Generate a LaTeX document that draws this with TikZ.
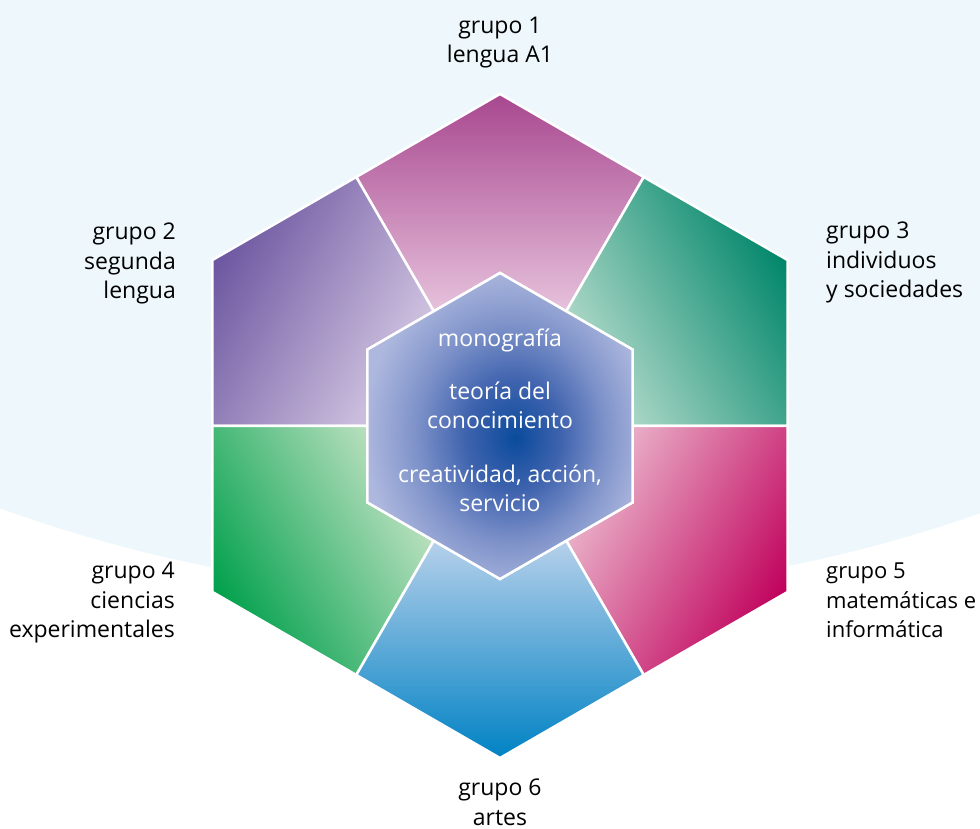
\documentclass[tikz,border=0pt]{standalone}
\usepackage{fontspec}
\setmainfont{Open Sans}
\usepackage{xcolor}
\usepackage{tikz}

\definecolor{bgblue}{HTML}{EEF7FC}
\definecolor{g1dark}{HTML}{A8478F}
\definecolor{g1pale}{HTML}{E6C2DC}
\definecolor{g2dark}{HTML}{6C56A0}
\definecolor{g2pale}{HTML}{D6CAE4}
\definecolor{g3dark}{HTML}{00866A}
\definecolor{g3pale}{HTML}{B6DCCC}
\definecolor{g4dark}{HTML}{00A04C}
\definecolor{g4pale}{HTML}{C6E4C6}
\definecolor{g5dark}{HTML}{C0005C}
\definecolor{g5pale}{HTML}{ECBACE}
\definecolor{g6dark}{HTML}{0082C4}
\definecolor{g6pale}{HTML}{B6D0EA}
\definecolor{coreblue}{HTML}{0A4B9C}
\definecolor{coremid}{HTML}{3F63AE}
\definecolor{corelight}{HTML}{7F93CA}
\definecolor{corepale}{HTML}{AEB8DE}

\pgfdeclareradialshading{core}{\pgfpoint{3bp}{-2bp}}{%
  color(0bp)=(coreblue); color(9bp)=(coremid); color(18bp)=(corelight);
  color(27bp)=(corepale); color(50bp)=(corepale)}

\begin{document}
\begin{tikzpicture}[x=1pt, y=1pt,
    segment/.style={draw=white, line width=2.5pt, line join=miter},
    grouptext/.style={font=\fontsize{23}{29.5}\selectfont, inner sep=0pt, anchor=base},
    coretext/.style={grouptext, text=white, align=center}]
  \def\lo{332}
  \def\lm{287.5}
  \def\li{153}
  \def\lim{132.5}
  \useasboundingbox (-500,-403) rectangle (480,426);
  \begin{scope}
    \clip (-500,-403) rectangle (480,426);
    \fill[bgblue] (-3,1293) circle (1462);
  \end{scope}
  \foreach \a/\dark/\pale/\ang in {90/g1dark/g1pale/0, 150/g2dark/g2pale/60,
      30/g3dark/g3pale/-60, 210/g4dark/g4pale/120,
      330/g5dark/g5pale/-120, 270/g6dark/g6pale/180}
  {
    \shade[segment, top color=\dark, bottom color=\pale, shading angle=\ang]
      (\a:\lo) -- (\a+30:\lm) -- (\a+30:\lim) -- (\a:\li)
      -- (\a-30:\lim) -- (\a-30:\lm) -- cycle
    ;
  }
  \shade[segment, shading=core]
    (90:\li) -- (150:\li) -- (210:\li) -- (270:\li) -- (330:\li) -- (30:\li) -- cycle
  ;
  \node[grouptext, align=center] (g1 text) at (0,363) {grupo 1\\lengua A1};
  \node[grouptext, align=right, anchor=base east] (g2 text) at (-324,127) {grupo 2\\segunda\\lengua};
  \node[grouptext, align=left, anchor=base west] (g3 text) at (326,128) {grupo 3\\individuos\\y sociedades};
  \node[grouptext, align=right, anchor=base east] (g4 text) at (-325,-212) {grupo 4\\ciencias\\experimentales};
  \node[grouptext, font=\fontsize{22}{29.5}\selectfont, align=left, anchor=base west]
    (g5 text) at (326,-212) {grupo 5\\matemáticas e\\informática};
  \node[grouptext, align=center] (g6 text) at (0,-399) {grupo 6\\artes};
  \node[coretext] (monografia) at (0,79) {monografía};
  \node[coretext] (tok) at (0,-3) {teoría del\\conocimiento};
  \node[coretext] (cas) at (0,-86) {creatividad, acción,\\servicio};
\end{tikzpicture}
\end{document}
